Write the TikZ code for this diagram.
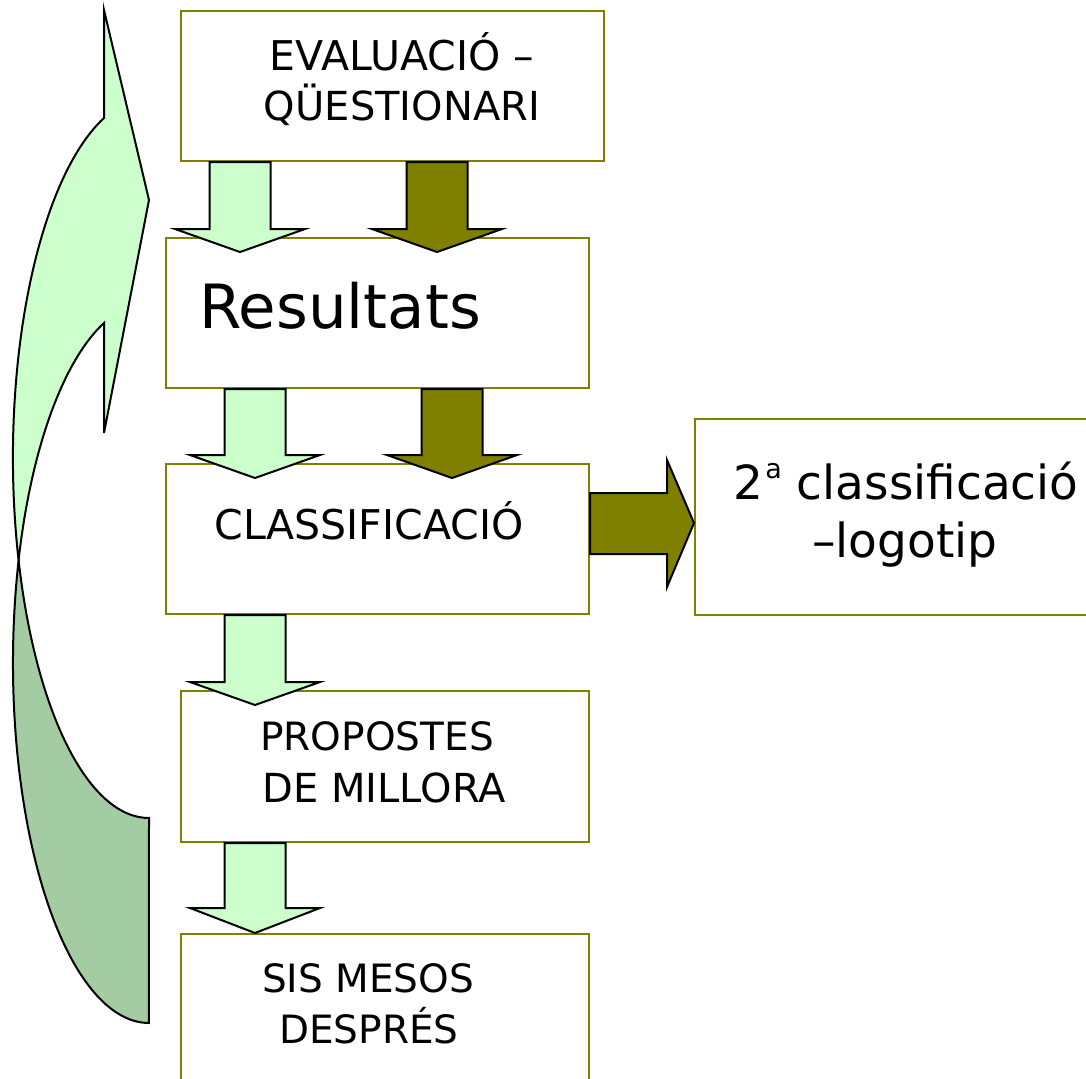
\documentclass[tikz,border=0pt]{standalone}
\usepackage{fontspec}
\setmainfont{DejaVu Sans}
\usetikzlibrary{calc}
\definecolor{olivebox}{RGB}{128,128,0}
\definecolor{lgreen}{RGB}{204,255,204}
\definecolor{dgreen}{RGB}{163,204,163}
\newcommand\dnarr[6]{%
 \draw[#1] (#2-30.5,0 |- #3.south) -- ([yshift=#5bp]#2-30.5,0 |- #4.north) -- ([yshift=#5bp]#2-65,0 |- #4.north) -- ([yshift=-#6bp]#2,0 |- #4.north) -- ([yshift=#5bp]#2+65,0 |- #4.north) -- ([yshift=#5bp]#2+30.5,0 |- #4.north) -- (#2+30.5,0 |- #3.south) -- cycle;}
\tikzset{
 box/.style={draw=olivebox, line width=2bp, fill=white, inner sep=0pt, anchor=north west},
 lbl/.style={anchor=base, inner sep=0pt, font=\fontsize{39bp}{47bp}\selectfont},
 garrow/.style={fill=lgreen, draw=black, line width=2bp},
 oarrow/.style={fill=olivebox, draw=black, line width=2bp},
 frontface/.style={fill=lgreen, draw=black, line width=2bp},
 backface/.style={fill=dgreen, draw=black, line width=2bp},
}
\begin{document}
\begin{tikzpicture}[x=1bp,y=-1bp,line join=miter]
\useasboundingbox (0,0) rectangle (1086,1079);
\clip (0,0) rectangle (1086,1079);
% boxes
\node[box, minimum width=423bp, minimum height=150bp] (b1) at (180,10) {};
\node[box, minimum width=423bp, minimum height=150bp] (b2) at (165,237) {};
\node[box, minimum width=423bp, minimum height=150bp] (b3) at (165,463) {};
\node[box, minimum width=420bp, minimum height=196bp] (b4) at (694,418) {};
\node[box, minimum width=408bp, minimum height=151bp] (b5) at (180,690) {};
\node[box, minimum width=408bp, minimum height=170bp] (b6) at (180,933) {};
% texts
\node[lbl, font=\fontsize{41bp}{48bp}\selectfont] (t1a) at (402,70) {EVALUACIÓ –};
\node[lbl, font=\fontsize{40bp}{48bp}\selectfont] (t1b) at (402,120) {QÜESTIONARI};
\node[anchor=base west, inner sep=0pt, font=\fontsize{61bp}{72bp}\selectfont] (t2) at (199,328) {Resultats};
\node[lbl, font=\fontsize{41bp}{48bp}\selectfont] (t3) at (369,539) {CLASSIFICACIÓ};
\node[lbl, font=\fontsize{47bp}{56bp}\selectfont] (t4a) at (906,499) {2\hspace{2bp}\raisebox{21bp}{\fontsize{27bp}{27bp}\selectfont a} classificació};
\node[lbl, font=\fontsize{47bp}{56bp}\selectfont] (t4b) at (905,557) {–logotip};
\node[lbl] (t5a) at (377,750) {PROPOSTES};
\node[lbl, font=\fontsize{40bp}{48bp}\selectfont] (t5b) at (384,802) {DE MILLORA};
\node[lbl] (t6a) at (368,992) {SIS MESOS};
\node[lbl] (t6b) at (369,1043) {DESPRÉS};
% down arrows
\dnarr{garrow}{240}{b1}{b2}{8}{15}
\dnarr{oarrow}{437}{b1}{b2}{8}{15}
\dnarr{garrow}{255}{b2}{b3}{8}{15}
\dnarr{oarrow}{452}{b2}{b3}{8}{15}
\dnarr{garrow}{255}{b3}{b5}{8}{15}
\dnarr{garrow}{255}{b5}{b6}{25}{0}
% right arrow
\draw[oarrow] (b3.east |- 0,493) -- (667,493) -- (667,460) -- (b4.west |- 0,523) -- (667,587) -- (667,554) -- (b3.east |- 0,554) -- cycle;
% curved arrow
\coordinate (cx) at (18.6,560.5);
\draw[backface] (cx) arc[start angle=163.46, end angle=270, x radius=136bp, y radius=360bp] -- (149,818) arc[start angle=270, end angle=196.54, x radius=136bp, y radius=360bp] -- cycle;
\draw[frontface] (104,118) arc[start angle=109.3, end angle=196.54, x radius=136bp, y radius=360bp] arc[start angle=163.46, end angle=109.3, x radius=136bp, y radius=360bp] -- (104,433) -- (149,200) -- (104,10) -- cycle;
\end{tikzpicture}
\end{document}
